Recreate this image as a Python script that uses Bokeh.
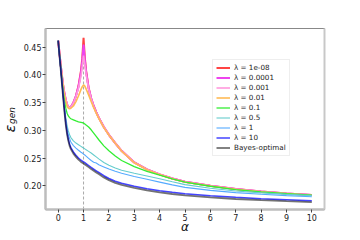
import numpy as np
from bokeh.plotting import figure
from bokeh.layouts import row
from bokeh.models import Range1d, FixedTicker, LinearAxis, Legend, LegendItem, PrintfTickFormatter
from bokeh.core.properties import value
from bokeh.embed import file_html
from bokeh.resources import INLINE

alpha = [0, 0.05, 0.1, 0.15, 0.2, 0.25, 0.3, 0.35, 0.4, 0.45,
         0.5, 0.6, 0.7, 0.8, 0.9, 0.95, 1.0, 1.05, 1.1, 1.2,
         1.3, 1.4, 1.5, 1.6, 1.8, 2.0, 2.25, 2.5, 3.0, 3.5,
         4.0, 4.5, 5.0, 6.0, 7.0, 8.0, 9.0, 10.0]

err_1e8 = [0.462, 0.440, 0.418, 0.398, 0.380, 0.366, 0.355, 0.347, 0.342, 0.341,
           0.342, 0.350, 0.362, 0.380, 0.408, 0.430, 0.467, 0.432, 0.408, 0.377,
           0.358, 0.344, 0.333, 0.323, 0.306, 0.292, 0.277, 0.263, 0.242, 0.2295,
           0.2205, 0.213, 0.207, 0.200, 0.194, 0.1895, 0.186, 0.183]
err_1e4 = [0.462, 0.440, 0.418, 0.398, 0.380, 0.366, 0.355, 0.347, 0.342, 0.341,
           0.342, 0.350, 0.362, 0.379, 0.405, 0.425, 0.455, 0.428, 0.406, 0.376,
           0.358, 0.344, 0.333, 0.323, 0.306, 0.292, 0.277, 0.263, 0.242, 0.2295,
           0.2205, 0.213, 0.207, 0.200, 0.194, 0.1895, 0.186, 0.183]
err_1e3 = [0.462, 0.440, 0.418, 0.398, 0.380, 0.366, 0.355, 0.347, 0.342, 0.341,
           0.342, 0.349, 0.361, 0.376, 0.398, 0.415, 0.435, 0.419, 0.402, 0.375,
           0.357, 0.343, 0.332, 0.323, 0.306, 0.292, 0.277, 0.263, 0.242, 0.2295,
           0.2205, 0.213, 0.207, 0.200, 0.194, 0.1895, 0.186, 0.183]
err_1e2 = [0.462, 0.440, 0.418, 0.397, 0.378, 0.363, 0.352, 0.344, 0.340, 0.339,
           0.340, 0.344, 0.352, 0.362, 0.374, 0.379, 0.382, 0.380, 0.375, 0.364,
           0.352, 0.341, 0.331, 0.3215, 0.305, 0.2915, 0.2765, 0.2625, 0.2415, 0.229,
           0.220, 0.2125, 0.2065, 0.1995, 0.1935, 0.189, 0.1857, 0.1828]
err_1e1 = [0.462, 0.438, 0.414, 0.391, 0.370, 0.352, 0.340, 0.331, 0.326, 0.323,
           0.321, 0.319, 0.317, 0.3155, 0.3145, 0.314, 0.313, 0.3115, 0.3095, 0.306,
           0.301, 0.295, 0.289, 0.283, 0.272, 0.263, 0.2535, 0.2455, 0.2345, 0.226,
           0.219, 0.2125, 0.2065, 0.199, 0.193, 0.1888, 0.1855, 0.183]
err_05 = [0.462, 0.436, 0.411, 0.386, 0.362, 0.341, 0.323, 0.309, 0.299, 0.292,
          0.287, 0.281, 0.277, 0.274, 0.271, 0.2695, 0.268, 0.2665, 0.265, 0.262,
          0.259, 0.2555, 0.252, 0.2485, 0.242, 0.237, 0.232, 0.228, 0.2225, 0.2175,
          0.2125, 0.207, 0.202, 0.1955, 0.1905, 0.187, 0.1843, 0.182]
err_1 = [0.462, 0.436, 0.411, 0.385, 0.360, 0.338, 0.318, 0.303, 0.292, 0.285,
         0.279, 0.2725, 0.268, 0.264, 0.2605, 0.259, 0.257, 0.2555, 0.2535, 0.2495,
         0.2455, 0.2425, 0.241, 0.238, 0.234, 0.230, 0.226, 0.2225, 0.2165, 0.2115,
         0.2065, 0.2015, 0.197, 0.1915, 0.1875, 0.1845, 0.182, 0.180]
err_10 = [0.462, 0.437, 0.413, 0.387, 0.361, 0.336, 0.313, 0.296, 0.284, 0.275,
          0.269, 0.261, 0.255, 0.250, 0.246, 0.2445, 0.243, 0.2415, 0.240, 0.2365,
          0.233, 0.230, 0.227, 0.224, 0.218, 0.213, 0.208, 0.2045, 0.199, 0.1945,
          0.191, 0.188, 0.1855, 0.182, 0.179, 0.1765, 0.1748, 0.173]
err_bayes = [0.462, 0.435, 0.410, 0.383, 0.357, 0.332, 0.310, 0.293, 0.281, 0.272,
             0.266, 0.258, 0.252, 0.247, 0.243, 0.2415, 0.240, 0.2385, 0.237, 0.2335,
             0.230, 0.227, 0.224, 0.221, 0.215, 0.210, 0.205, 0.2015, 0.196, 0.1915,
             0.188, 0.185, 0.1825, 0.179, 0.176, 0.1738, 0.172, 0.1705]

labels = ["λ = 1e-08", "λ = 0.0001", "λ = 0.001", "λ = 0.01", "λ = 0.1",
          "λ = 0.5", "λ = 1", "λ = 10", "Bayes-optimal"]
series = [err_1e8, err_1e4, err_1e3, err_1e2, err_1e1, err_05, err_1, err_10, err_bayes]
colors = ["#ff4444", "#ee44ee", "#ff99dd", "#ffbb55", "#33ee33", "#66cccc", "#55aaff", "#4444ff", "#000000"]
widths = [2.0, 2.0, 1.6, 1.6, 1.3, 1.1, 1.1, 1.5, 1.8]
alphas = [1, 1, 1, 1, 1, 1, 1, 1, 0.55]

x_ticks = list(range(0, 11))
y_ticks = [0.20, 0.25, 0.30, 0.35, 0.40, 0.45]
alpha_c = 1.0

H = 237
LW = 18
W = 344 - LW

# narrow strip holding the rotated y-axis label (epsilon with subscript)
ylab = figure(width=LW, height=H, output_backend="svg", toolbar_location=None,
              x_range=Range1d(0, LW), y_range=Range1d(0, H),
              min_border_left=0, min_border_right=0, min_border_top=0, min_border_bottom=0)
ylab.axis.visible = False
ylab.grid.visible = False
ylab.outline_line_color = None
ylab.text(x=[9.0], y=[H - 131], text=["ε"], angle=np.pi / 2, text_font=value("DejaVu Sans"),
          text_font_style="italic", text_font_size="14px", text_align="center",
          text_baseline="middle", text_color="#111111")
ylab.text(x=[11.5], y=[H - 125], text=["gen"], angle=np.pi / 2, text_font=value("DejaVu Sans"),
          text_font_style="italic", text_font_size="9px", text_align="left",
          text_baseline="middle", text_color="#111111")

p = figure(width=W, height=H, output_backend="svg", toolbar_location=None,
           x_range=Range1d(-0.5, 10.5), y_range=Range1d(0.157, 0.484),
           min_border_left=45 - LW, min_border_right=20, min_border_top=28, min_border_bottom=H - 209)
p.xgrid.visible = False
p.ygrid.visible = False
p.outline_line_color = "#888888"
p.outline_line_width = 1

p.segment(x0=[alpha_c], y0=[p.y_range.start], x1=[alpha_c], y1=[max(err_1e8)],
          line_color="#aaaaaa", line_dash="3 2", line_width=1)

items = []
for lab, ys, c, w, a in zip(labels, series, colors, widths, alphas):
    r = p.line(alpha, ys, line_color=c, line_width=w, line_alpha=a)
    items.append(LegendItem(label=lab, renderers=[r]))

for ax in (p.xaxis[0], p.yaxis[0]):
    ax.axis_line_color = "#bdbdbd"
    ax.axis_line_width = 2.5
    ax.major_tick_line_color = "#444444"
    ax.major_tick_out = 3
    ax.major_tick_in = 0
    ax.minor_tick_line_color = None
    ax.major_label_text_font = "DejaVu Sans"
    ax.major_label_text_font_size = "8px"
    ax.major_label_text_color = "#222222"
    ax.major_label_standoff = 1
p.xaxis.ticker = FixedTicker(ticks=x_ticks)
p.yaxis.ticker = FixedTicker(ticks=y_ticks)
p.yaxis.formatter = PrintfTickFormatter(format="%.2f")
p.xaxis.axis_label = "α"
p.xaxis.axis_label_text_font = "DejaVu Sans"
p.xaxis.axis_label_text_font_style = "italic"
p.xaxis.axis_label_text_font_size = "12px"
p.xaxis.axis_label_text_color = "#111111"
p.xaxis.axis_label_standoff = -4

rax = LinearAxis(ticker=FixedTicker(ticks=[]), axis_line_color="#c8c8c8", axis_line_width=2,
                 major_tick_line_color=None, minor_tick_line_color=None,
                 major_label_text_font_size="0px")
p.add_layout(rax, "right")

legend = Legend(items=items, location=(167, 53))
legend.label_text_font = "DejaVu Sans"
legend.label_text_font_size = "7.2px"
legend.label_text_color = "#222222"
legend.glyph_width = 14
legend.glyph_height = 9
legend.label_height = 9
legend.spacing = 1
legend.padding = 3
legend.margin = 0
legend.label_standoff = 4
legend.border_line_color = "#dddddd"
legend.border_line_width = 1
legend.background_fill_alpha = 0.8
p.add_layout(legend)

layout = row(ylab, p, spacing=0)
open("out.html", "w").write(file_html(layout, INLINE))
